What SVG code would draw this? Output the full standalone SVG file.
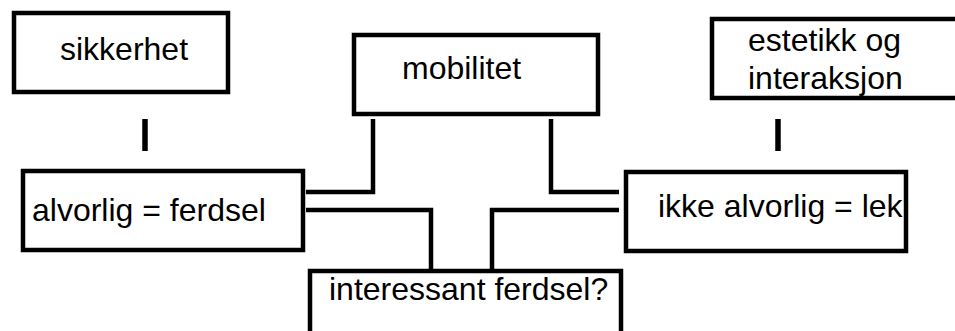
<svg xmlns="http://www.w3.org/2000/svg" width="955" height="331" viewBox="0 0 955 331">
<style>
.box{fill:#fff;stroke:#000;stroke-width:4.5}
.lbl{font-family:"Liberation Sans",Arial,sans-serif;font-size:32px;fill:#000}
.con{fill:none;stroke:#000;stroke-width:4.5}
.tick{fill:none;stroke:#000;stroke-width:5.5}
</style>
<rect width="955" height="331" fill="#fff"/>
<g id="connectors">
<path class="con" d="M373 119 V192 H306"/>
<path class="con" d="M551 119 V192 H619"/>
<path class="con" d="M306 210 H431 V269"/>
<path class="con" d="M619 210 H492 V269"/>
<path class="tick" d="M145 119 V151"/>
<path class="tick" d="M778 119 V151"/>
</g>
<g id="sikkerhet">
<rect class="box" x="14" y="13" width="214" height="79"/>
<text class="lbl" x="60" y="60">sikkerhet</text>
</g>
<g id="mobilitet">
<rect class="box" x="354" y="35" width="244" height="79"/>
<text class="lbl" x="402" y="79">mobilitet</text>
</g>
<g id="estetikk">
<rect class="box" x="712" y="19" width="250" height="79"/>
<text class="lbl" x="748" y="51">estetikk og</text>
<text class="lbl" x="748" y="89">interaksjon</text>
</g>
<g id="alvorlig">
<rect class="box" x="23" y="171" width="280" height="79"/>
<text class="lbl" x="32" y="221">alvorlig = ferdsel</text>
</g>
<g id="ikke">
<rect class="box" x="626" y="172" width="280" height="79"/>
<text class="lbl" x="658" y="217">ikke alvorlig = lek</text>
</g>
<g id="interessant">
<rect class="box" x="310" y="271" width="311" height="80"/>
<text class="lbl" x="329" y="300">interessant ferdsel?</text>
</g>
</svg>
